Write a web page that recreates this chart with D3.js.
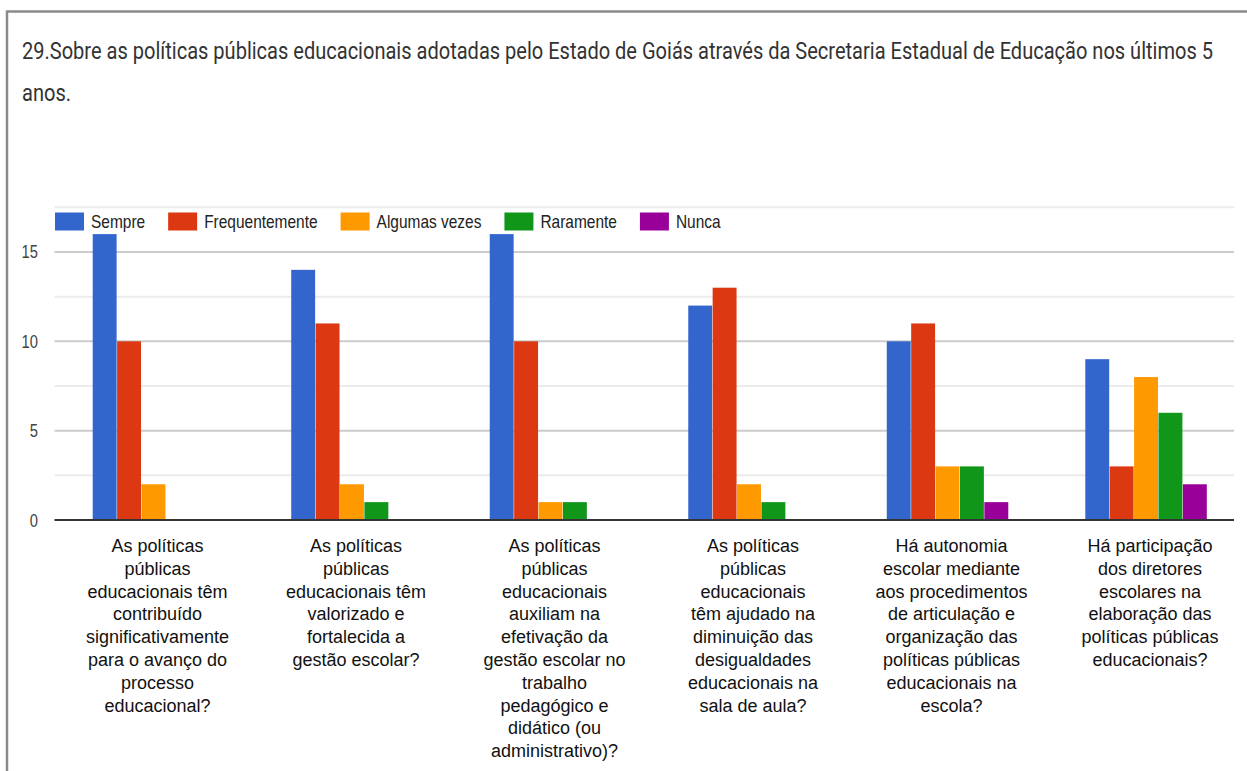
<!DOCTYPE html>
<html>
<head>
<meta charset="utf-8">
<script src="https://cdn.jsdelivr.net/npm/d3@7"></script>
<style>
  body { margin: 0; background: #fff; }
  svg { display: block; }
</style>
</head>
<body>
<div id="chart"></div>
<script>
//// data
const titleLines = [
  "29.Sobre as políticas públicas educacionais adotadas pelo Estado de Goiás através da Secretaria Estadual de Educação nos últimos 5",
  "anos."
];
const categories = [
  ["As políticas", "públicas", "educacionais têm", "contribuído", "significativamente", "para o avanço do", "processo", "educacional?"],
  ["As políticas", "públicas", "educacionais têm", "valorizado e", "fortalecida a", "gestão escolar?"],
  ["As políticas", "públicas", "educacionais", "auxiliam na", "efetivação da", "gestão escolar no", "trabalho", "pedagógico e", "didático (ou", "administrativo)?"],
  ["As políticas", "públicas", "educacionais", "têm ajudado na", "diminuição das", "desigualdades", "educacionais na", "sala de aula?"],
  ["Há autonomia", "escolar mediante", "aos procedimentos", "de articulação e", "organização das", "políticas públicas", "educacionais na", "escola?"],
  ["Há participação", "dos diretores", "escolares na", "elaboração das", "políticas públicas", "educacionais?"]
];
const seriesNames = ["Sempre", "Frequentemente", "Algumas vezes", "Raramente", "Nunca"];
const seriesColors = ["#3366cc", "#dc3912", "#ff9900", "#109618", "#990099"];
const sempre         = [16, 14, 16, 12, 10, 9];
const frequentemente = [10, 11, 10, 13, 11, 3];
const algumasVezes   = [2, 2, 1, 2, 3, 8];
const raramente      = [0, 1, 1, 1, 3, 6];
const nunca          = [0, 0, 0, 0, 1, 2];
const yTicks = [0, 5, 10, 15];
const yMax = 17.5;

const seriesValues = [sempre, frequentemente, algumasVezes, raramente, nunca];

//// chart
const W = 1247, H = 771;
const plot = {left: 54.5, right: 1245, gridRight: 1234, top: 207.3, bottom: 520};

const svg = d3.select("#chart").append("svg")
  .attr("width", W)
  .attr("height", H);

svg.append("rect").attr("width", W).attr("height", H).attr("fill", "#fff");

// frame
svg.append("path")
  .attr("d", "M7," + H + " V11.5 H" + W)
  .attr("fill", "none")
  .attr("stroke", "#8a8a8a")
  .attr("stroke-width", 2.5);

// title, squeezed like the screenshot
let t1 = svg.append("text")
  .attr("x", 22).attr("y", 59)
  .attr("font-family", "Roboto, 'Open Sans', sans-serif")
  .attr("font-size", 23)
  .attr("fill", "#333")
  .text(titleLines[0]);
const natural1 = t1.node().getComputedTextLength();
const squeeze = 1191 / natural1;
t1.attr("textLength", 1191).attr("lengthAdjust", "spacingAndGlyphs");
let t2 = svg.append("text")
  .attr("x", 22).attr("y", 101)
  .attr("font-family", "Roboto, 'Open Sans', sans-serif")
  .attr("font-size", 23)
  .attr("fill", "#333")
  .text(titleLines[1]);
t2.attr("textLength", t2.node().getComputedTextLength() * squeeze)
  .attr("lengthAdjust", "spacingAndGlyphs");

// scales
const x0 = d3.scaleBand()
  .domain(d3.range(categories.length))
  .range([plot.left, plot.right])
  .paddingInner(0.383)
  .paddingOuter(0.19);

const x1 = d3.scaleBand()
  .domain(d3.range(seriesNames.length))
  .range([0, x0.bandwidth()])
  .padding(0.02);

const y = d3.scaleLinear()
  .domain([0, yMax])
  .range([plot.bottom, plot.top]);

// gridlines (minor every 2.5, major every 5)
const gridVals = d3.range(2.5, yMax + 0.01, 2.5);
svg.append("g").selectAll("line")
  .data(gridVals)
  .enter().append("line")
  .attr("x1", plot.left).attr("x2", plot.gridRight)
  .attr("y1", d => y(d)).attr("y2", d => y(d))
  .attr("stroke", d => (d % 5 === 0) ? "#cccccc" : "#ebebeb")
  .attr("stroke-width", 2);

// y tick labels
svg.append("g").selectAll("text")
  .data(yTicks)
  .enter().append("text")
  .attr("transform", d => "translate(38," + (y(d) + 6.5) + ") scale(0.82,1)")
  .attr("text-anchor", "end")
  .attr("font-family", "'Liberation Sans', Arial, sans-serif")
  .attr("font-size", 18)
  .attr("fill", "#444")
  .text(d => d);

//// bars
const groups = svg.append("g").selectAll("g")
  .data(categories.map((c, i) => i))
  .enter().append("g")
  .attr("transform", i => "translate(" + x0(i) + ",0)");

groups.selectAll("rect")
  .data(i => seriesValues.map((vals, s) => ({s: s, v: vals[i]})).filter(d => d.v > 0))
  .enter().append("rect")
  .attr("x", d => x1(d.s))
  .attr("width", x1.bandwidth())
  .attr("y", d => y(d.v))
  .attr("height", d => y(0) - y(d.v))
  .attr("fill", d => seriesColors[d.s]);

// baseline
svg.append("line")
  .attr("x1", plot.left).attr("x2", plot.gridRight)
  .attr("y1", y(0)).attr("y2", y(0))
  .attr("stroke", "#333")
  .attr("stroke-width", 2);

// category labels
groups.append("text")
  .attr("text-anchor", "middle")
  .attr("font-family", "'Liberation Sans', Arial, sans-serif")
  .attr("font-size", 18)
  .attr("fill", "#111")
  .selectAll("tspan")
  .data(i => categories[i])
  .enter().append("tspan")
  .attr("x", x0.bandwidth() / 2 + 4)
  .attr("y", (d, k) => 552 + k * 22.8)
  .text(d => d);

//// legend
const legend = svg.append("g");
let lx = 55;
seriesNames.forEach(function (name, s) {
  legend.append("rect")
    .attr("x", lx).attr("y", 212.5)
    .attr("width", 29).attr("height", 18)
    .attr("fill", seriesColors[s]);
  let lt = legend.append("text")
    .attr("transform", "translate(" + (lx + 36) + ",228) scale(0.86,1)")
    .attr("font-family", "'Liberation Sans', Arial, sans-serif")
    .attr("font-size", 18)
    .attr("fill", "#222")
    .text(name);
  lx += 36 + lt.node().getComputedTextLength() * 0.86 + 23;
});
</script>
</body>
</html>
